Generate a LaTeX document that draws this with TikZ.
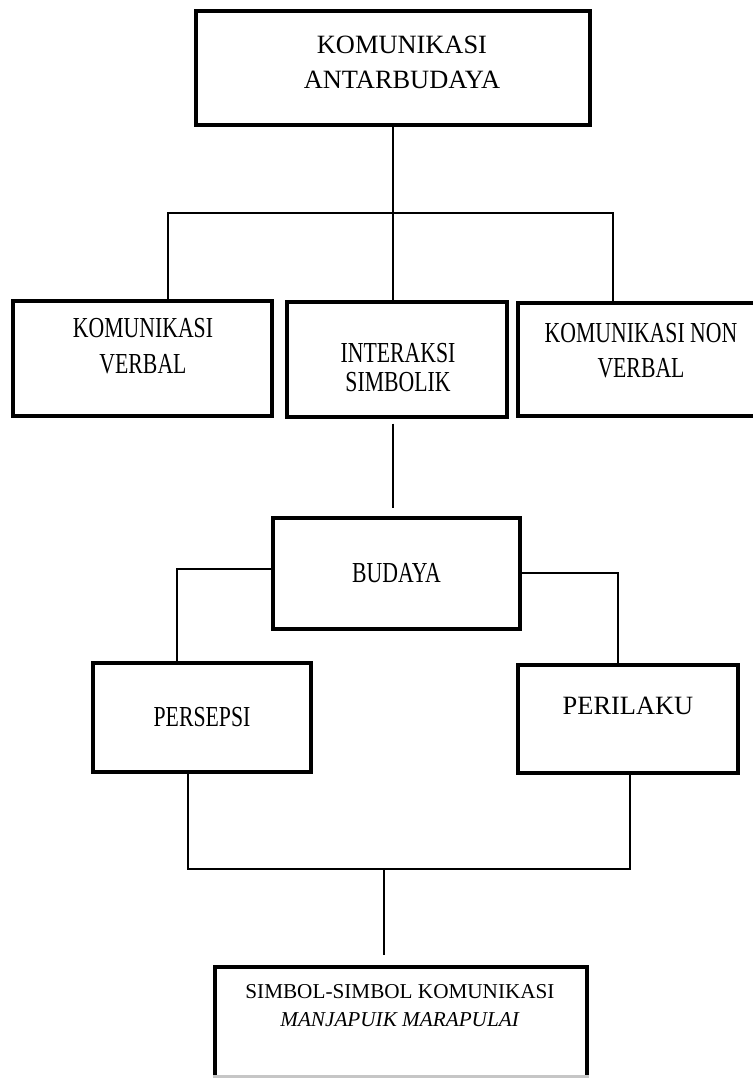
\documentclass[tikz,border=0pt]{standalone}
\usepackage{fontspec}
\setmainfont{Liberation Serif}
\newfontfamily\narrowfont[FakeStretch=0.75]{Liberation Serif}
\begin{document}
\begin{tikzpicture}[x=0.5pt,y=-0.5pt,
  box/.style={draw=black, line width=1.7pt, inner sep=0pt},
  link/.style={black, line width=0.8pt},
  serif/.style={align=center, font=\fontsize{13.2}{17.5}\selectfont},
  narrow/.style={align=center, font=\narrowfont\fontsize{14.5}{18}\selectfont}]
\useasboundingbox (0,0) rectangle (752,1078);

% boxes
\node[box, minimum width=197pt, minimum height=57pt] (ant) at (393,68) {};
\node[box, minimum width=129.5pt, minimum height=57.5pt] (kv) at (142.5,358.5) {};
\node[box, minimum width=110pt, minimum height=57.5pt] (is) at (397,359.5) {};
\node[box, minimum width=120pt, minimum height=56.5pt] (knv) at (638,359.5) {};
\node[box, narrow, minimum width=123.5pt, minimum height=55.5pt] (bud) at (396.5,573.5) {BUDAYA};
\node[box, narrow, minimum width=109pt, minimum height=54.5pt] (per) at (202,717.5) {PERSEPSI};
\node[box, minimum width=110pt, minimum height=54pt] (pri) at (628,719) {};
\node[box, minimum width=186pt, minimum height=56.5pt] (sim) at (401,1023.5) {};
\draw[gray!45, line width=1.6pt] ([yshift=2.5pt]sim.south west) -- ([yshift=2.5pt]sim.south east);

% texts
\node[serif] (antT) at (402,62.5) {KOMUNIKASI\\ANTARBUDAYA};
\node[narrow] (kvT) at (143,346) {KOMUNIKASI\\VERBAL};
\node[narrow, font=\narrowfont\fontsize{14.5}{14.5}\selectfont] (isT) at (398,367.5) {INTERAKSI\\SIMBOLIK};
\node[narrow, font=\narrowfont\fontsize{14.5}{17.5}\selectfont] (knvT) at (641,350.5) {KOMUNIKASI NON\\VERBAL};
\node[serif] (priT) at (628,706) {PERILAKU};
\node[align=center, font=\fontsize{10.6}{14}\selectfont] (simT) at (400,1006) {SIMBOL-SIMBOL KOMUNIKASI\\\textit{MANJAPUIK MARAPULAI}};

% connectors
\coordinate (busL) at (168,213);
\coordinate (busR) at (613,213);
\coordinate (pl) at (177,569);
\coordinate (pr) at (618,573);
\coordinate (bl) at (188,869);
\coordinate (br) at (630,869);
\coordinate (bm) at (384,869);

\draw[link] (ant.south) -- (ant.south |- is.north);
\draw[link] (busL |- kv.north) -- (busL) -- (busR) -- (busR |- knv.north);
\draw[link, shorten <=2.5pt, shorten >=4pt] (ant.south |- is.south) -- (ant.south |- bud.north);
\draw[link] (bud.west |- pl) -- (pl) -- (pl |- per.north);
\draw[link] (bud.east |- pr) -- (pr) -- (pr |- pri.north);
\draw[link] (bl |- per.south) -- (bl) -- (br) -- (br |- pri.south);
\draw[link, shorten >=5pt] (bm) -- (bm |- sim.north);

\end{tikzpicture}
\end{document}
